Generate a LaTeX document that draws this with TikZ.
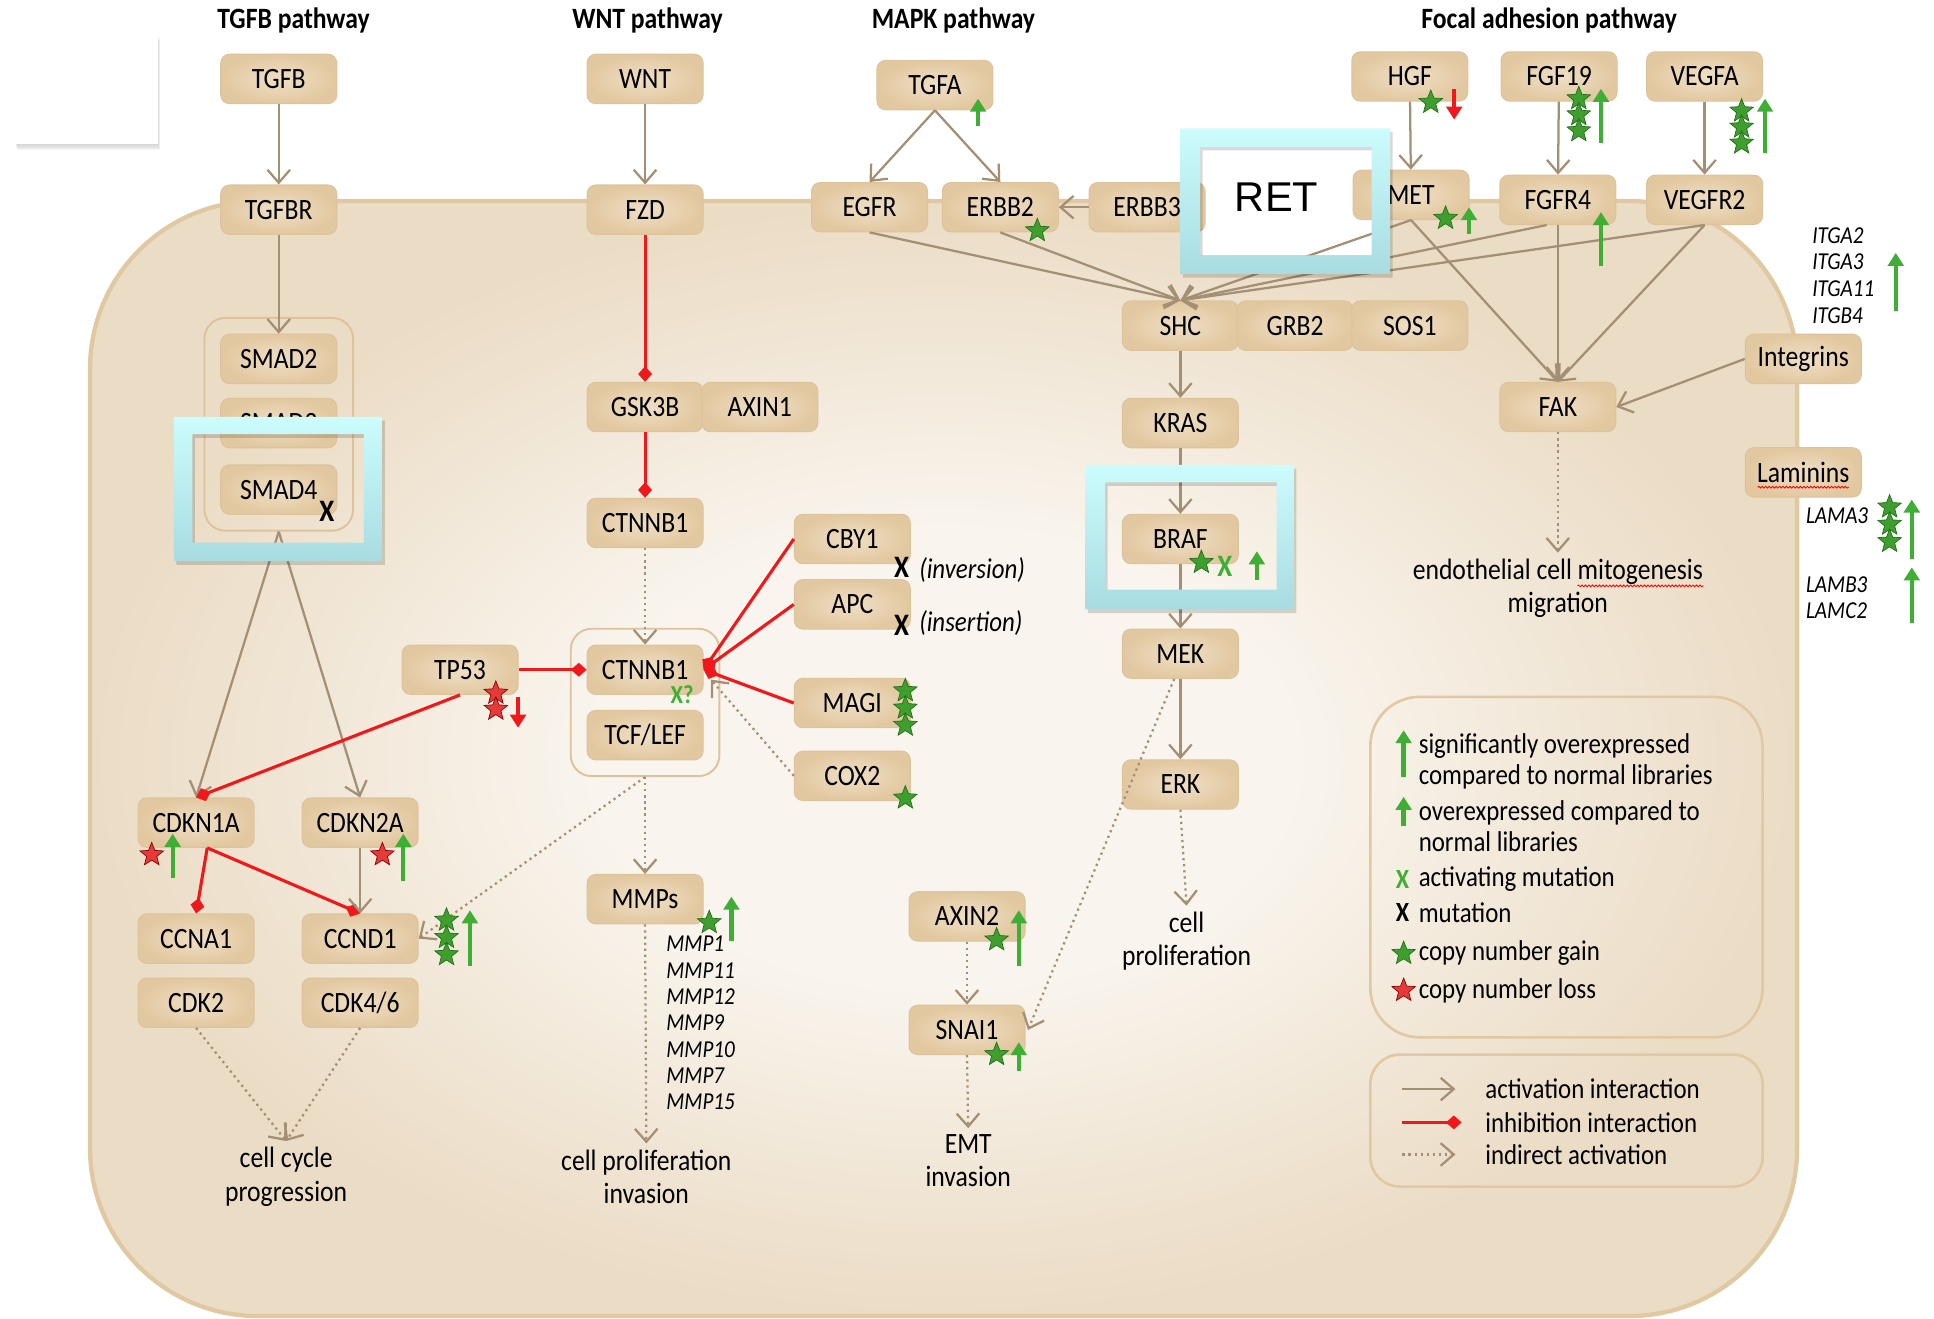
\documentclass[tikz,border=0pt]{standalone}
\usepackage{fontspec}
\setmainfont{Carlito}[FakeStretch=0.87]
\newfontfamily\retfont{Liberation Sans}
\usetikzlibrary{arrows.meta,shapes.geometric,fit,calc,decorations.pathmorphing}

\definecolor{boxin}{HTML}{EFDFC6}
\definecolor{boxout}{HTML}{E2C8A0}
\definecolor{boxline}{HTML}{DCC39C}
\definecolor{edgecol}{HTML}{A38F74}
\definecolor{cellin}{HTML}{F9F5EE}
\definecolor{cellout}{HTML}{EBDCC5}
\definecolor{cellline}{HTML}{E0C9A2}
\definecolor{grn}{HTML}{3FAE34}
\definecolor{stargrn}{HTML}{3E9F2E}
\definecolor{stardk}{HTML}{236F19}
\definecolor{redc}{HTML}{F0181A}
\definecolor{starred}{HTML}{E43A3A}
\definecolor{cyantop}{HTML}{CCFCFC}
\definecolor{cyanbot}{HTML}{A8DCE1}

\pgfdeclareradialshading{cellglow}{\pgfpoint{0bp}{0bp}}{color(0bp)=(cellin); color(10bp)=(cellin); color(25bp)=(cellout); color(50bp)=(cellout)}

\pgfdeclarelayer{back}
\pgfdeclarelayer{front}
\pgfsetlayers{back,main,front}

\begin{document}
\begin{tikzpicture}[x=0.025cm,y=-0.025cm]
\tikzset{
  gene/.style={rectangle, rounded corners=5pt, draw=boxline, line width=0.6pt,
    inner color=boxin, outer color=boxout, minimum width=2.35cm, minimum height=1cm,
    font=\fontsize{17}{20}\selectfont},
  grp/.style={rectangle, rounded corners=12pt, draw=boxline, line width=1.1pt, inner sep=0.32cm},
  act/.style={edgecol, line width=1.3pt, -{Straight Barb[length=7.5pt,width=13pt]}},
  inh/.style={redc, line width=1.8pt, -{Diamond[length=9pt,width=8pt]}},
  ind/.style={edgecol, line width=1.3pt, dash pattern=on 1.3pt off 2.2pt, -{Straight Barb[length=7.5pt,width=13pt]}},
  upg/.style={grn, line width=2.5pt, -{Triangle[length=7.5pt,width=9pt]}},
  dnr/.style={redc, line width=2.5pt, -{Triangle[length=7.5pt,width=9pt]}},
  gstar/.style={star, star points=5, star point ratio=2.3, fill=stargrn, draw=stardk,
    line width=0.4pt, minimum size=0.5cm, inner sep=0pt},
  rstar/.style={gstar, fill=starred, draw=red!55!black},
  lbl/.style={font=\fontsize{17}{19.3}\selectfont, align=center},
  ttl/.style={font=\bfseries\fontsize{17}{20}\selectfont},
  glist/.style={font=\itshape\fontsize{14}{16}\selectfont, anchor=west, inner sep=0pt},
  mutx/.style={font=\bfseries\fontsize{18}{20}\selectfont, inner sep=0pt},
  note/.style={font=\itshape\fontsize{16.5}{19}\selectfont, anchor=west, inner sep=0pt},
  legtxt/.style={font=\fontsize{16.5}{17.8}\selectfont, anchor=west, align=left, inner sep=0pt},
  wavy/.style={red, line width=0.5pt, decorate, decoration={snake, amplitude=0.5pt, segment length=2pt}}
}
\useasboundingbox (0,0) rectangle (1568,1069);

\begin{pgfonlayer}{back}
\shadedraw[shading=cellglow, draw=cellline, line width=2.5pt, rounded corners=3.4cm] (73,163) rectangle (1457,1067);
\foreach \i in {1,...,5}
  \fill[black, opacity=0.035] (12+0.4*\i,28+0.9*\i) rectangle (128+0.4*\i,117+0.9*\i);
\fill[white] (12,28) rectangle (128,117);
\fill[white] (973,119) rectangle (1112,207);
\end{pgfonlayer}

\node[ttl] (ttgfb) at (238,17) {TGFB pathway};
\node[ttl] (twnt) at (525,17) {WNT pathway};
\node[ttl] (tmapk) at (773,17) {MAPK pathway};
\node[ttl] (tfocal) at (1256,17) {Focal adhesion pathway};

% TGFB
\node[gene] (tgfb) at (226,64) {TGFB};
\node[gene] (tgfbr) at (226,170) {TGFBR};
\node[gene] (smadii) at (226,291) {SMAD2};
\node[gene] (smadiii) at (226,343) {SMAD3};
\node[gene] (smadiv) at (226,397) {SMAD4};
\node[grp, fit=(smadii)(smadiv)] (smadgrp) {};
\node[gene] (cdknia) at (159,667) {CDKN1A};
\node[gene] (cdkniia) at (292,667) {CDKN2A};
\node[gene] (ccnai) at (159,761) {CCNA1};
\node[gene] (ccndi) at (292,761) {CCND1};
\node[gene] (cdkii) at (159,813) {CDK2};
\node[gene] (cdkiv) at (292,813) {CDK4/6};
\node[gene] (tpliii) at (373,543) {TP53};
\node[lbl] (ccyc) at (232,954) {cell cycle\\progression};

% WNT
\node[gene] (wnt) at (523,64) {WNT};
\node[gene] (fzd) at (523,170) {FZD};
\node[gene] (gsk) at (523,330) {GSK3B};
\node[gene] (axini) at (616,330) {AXIN1};
\node[gene] (ctnnba) at (523,424) {CTNNB1};
\node[gene] (ctnnbb) at (523,543) {CTNNB1};
\node[gene] (tcf) at (523,596) {TCF/LEF};
\node[grp, fit=(ctnnbb)(tcf)] (tcfgrp) {};
\node[gene] (cby) at (691,437) {CBY1};
\node[gene] (apc) at (691,490) {APC};
\node[gene] (magi) at (691,570) {MAGI};
\node[gene] (cox) at (691,629) {COX2};
\node[gene] (mmps) at (523,729) {MMPs};
\node[lbl] (cprol) at (524,954) {cell proliferation\\invasion};

% MAPK
\node[gene] (tgfa) at (758,69) {TGFA};
\node[gene] (egfr) at (705,168) {EGFR};
\node[gene] (erbbii) at (811,168) {ERBB2};
\node[gene] (erbbiii) at (930,168) {ERBB3};
\node[gene] (shc) at (957,264) {SHC};
\node[gene] (grb) at (1050,264) {GRB2};
\node[gene] (sos) at (1143,264) {SOS1};
\node[gene] (kras) at (957,343) {KRAS};
\node[gene] (braf) at (957,437) {BRAF};
\node[gene] (mek) at (957,530) {MEK};
\node[gene] (erk) at (957,636) {ERK};
\node[lbl] (cprolii) at (962,763) {cell\\proliferation};
\node[gene] (axinii) at (784,743) {AXIN2};
\node[gene] (snai) at (784,835) {SNAI1};
\node[lbl] (emt) at (785,941) {EMT\\invasion};

% focal adhesion
\node[gene] (hgf) at (1143,62) {HGF};
\node[gene] (fgf) at (1264,62) {FGF19};
\node[gene] (vegfa) at (1382,62) {VEGFA};
\node[gene] (met) at (1144,158) {MET};
\node[gene] (fgfr) at (1263,162) {FGFR4};
\node[gene] (vegfr) at (1382,162) {VEGFR2};
\node[gene] (fak) at (1263,330) {FAK};
\node[gene] (integ) at (1462,291) {Integrins};
\node[gene] (lamin) at (1462,383) {Laminins};
\node[lbl] (endo) at (1263,477) {endothelial cell mitogenesis\\migration};
\draw[wavy] (1279,475) -- (1381,475);
\draw[wavy] (1425,395) -- (1499,395);

% connectors
\draw[act] (tgfb) -- (tgfbr);
\draw[act] (tgfbr) -- (smadii);
\draw[act] (smadgrp.south) -- (cdknia.north);
\draw[act] (smadgrp.south) -- (cdkniia.north);
\draw[inh] (tpliii.south) -- (cdknia.north);
\draw[inh] ($(cdknia.south)+(9,0)$) -- (ccnai.north);
\draw[inh] ($(cdknia.south)+(9,0)$) -- (ccndi.north);
\draw[act] (cdkniia) -- (ccndi);
\draw[ind] (cdkii.south) -- (ccyc.north);
\draw[ind] (cdkiv.south) -- (ccyc.north);

\draw[act] (wnt) -- (fzd);
\draw[inh] (fzd) -- (gsk);
\draw[inh] (gsk) -- (ctnnba);
\draw[ind] (ctnnba) -- (ctnnbb);
\draw[inh] (tpliii) -- (ctnnbb);
\draw[inh] (cby.west) -- (ctnnbb.east);
\draw[inh] (apc.west) -- (ctnnbb.east);
\draw[inh] (magi.west) -- (ctnnbb.east);
\draw[ind] (cox.west) -- ($(ctnnbb.east)+(6,8)$);
\draw[ind] (tcfgrp.south) -- (mmps.north);
\draw[ind] (tcfgrp.south) -- (ccndi.east);
\draw[ind] (mmps.south) -- (cprol.north);

\draw[act] (tgfa.south) -- (egfr.north);
\draw[act] (tgfa.south) -- (erbbii.north);
\draw[act] (erbbiii) -- (erbbii);
\draw[act] (egfr.south) -- (shc.north);
\draw[act] (erbbii.south) -- (shc.north);
\draw[act] (met.south) -- (shc.north);
\draw[act] ($(fgfr.south)+(-9,0)$) -- (shc.north);
\draw[act] (vegfr.south) -- (shc.north);
\draw[act] (shc) -- (kras);
\draw[act] (kras) -- (braf);
\draw[act] (braf) -- (mek);
\draw[act] (mek) -- (erk);
\draw[ind] (erk.south) -- (cprolii.north);
\draw[ind] ($(mek.south)+(-5,0)$) -- ($(snai.east)+(2,0)$);
\draw[ind] (axinii) -- (snai);
\draw[ind] (snai.south) -- (emt.north);

\draw[act] (hgf) -- (met);
\draw[act] (fgf) -- (fgfr);
\draw[act] (vegfa) -- (vegfr);
\draw[act] (met.south) -- (fak.north);
\draw[act] (fgfr.south) -- (fak.north);
\draw[act] (vegfr.south) -- (fak.north);
\draw[act] (integ.west) -- (fak.east);
\draw[ind] (fak.south) -- (endo.north);

% marks
\node[mutx] (xsmad) at (265,415) {X};
\node[rstar] (sttpa) at (402,562) {};
\node[rstar] (sttpb) at (402,575) {};
\draw[dnr] (420,565) -- (420,590);
\node[rstar] (stcdka) at (123,693) {};
\draw[upg] (140,712) -- (140,676);
\node[rstar] (stcdkb) at (310,693) {};
\draw[upg] (327,714) -- (327,676);
\foreach \y in {746,760,774} \node[gstar] (stccnd\y) at (362,\y) {};
\draw[upg] (381,783) -- (381,738);
\node[mutx, text=grn, font=\bfseries\fontsize{15}{17}\selectfont] (xctn) at (553,563) {X?};
\node[mutx] (xcby) at (731,460) {X};
\node[note] (ninv) at (745,462) {(inversion)};
\node[mutx] (xapc) at (731,507) {X};
\node[note] (nins) at (745,505) {(insertion)};
\foreach \y in {560,574,588} \node[gstar] (stmagi\y) at (734,\y) {};
\node[gstar] (stcox) at (734,647) {};
\node[gstar] (stmmp) at (575,748) {};
\draw[upg] (593,763) -- (593,727);
\foreach \n/\y in {MMP1/765,MMP11/787,MMP12/808,MMP9/829,MMP10/851,MMP7/872,MMP15/893}
  \node[glist] (l\n) at (540,\y) {\n};

\draw[upg] (793,102) -- (793,80);
\node[gstar] (sterb) at (841,187) {};
\node[gstar] (stbraf) at (974,456) {};
\node[mutx, text=grn] (xbraf) at (993,459) {X};
\draw[upg] (1019,470) -- (1019,447);
\node[gstar] (staxin) at (808,762) {};
\draw[upg] (826,783) -- (826,738);
\node[gstar] (stsnai) at (808,855) {};
\draw[upg] (826,868) -- (826,845);

\node[gstar] (sthgf) at (1160,83) {};
\draw[dnr] (1179,72) -- (1179,97);
\foreach \y in {80,93,106} \node[gstar] (stfgf\y) at (1280,\y) {};
\draw[upg] (1298,116) -- (1298,72);
\foreach \y in {90,103,116} \node[gstar] (stveg\y) at (1412,\y) {};
\draw[upg] (1431,124) -- (1431,80);
\node[gstar] (stmet) at (1172,177) {};
\draw[upg] (1191,190) -- (1191,168);
\draw[upg] (1298,216) -- (1298,172);
\foreach \n/\y in {ITGA2/191,ITGA3/212,ITGA11/234,ITGB4/256}
  \node[glist] (l\n) at (1469,\y) {\n};
\draw[upg] (1537,252) -- (1537,205);
\node[glist] (llama) at (1464,418) {LAMA3};
\foreach \y in {411,425,439} \node[gstar] (stlam\y) at (1532,\y) {};
\draw[upg] (1550,453) -- (1550,405);
\node[glist] (llamb) at (1464,474) {LAMB3};
\node[glist] (llamc) at (1464,495) {LAMC2};
\draw[upg] (1550,505) -- (1550,460);

% legend
\draw[cellline, line width=1.5pt, rounded corners=1cm] (1111,565) rectangle (1429,841);
\draw[upg] (1138,630) -- (1138,592);
\node[legtxt] (lgsig) at (1150,617) {significantly overexpressed\\compared to normal libraries};
\draw[upg] (1138,670) -- (1138,646);
\node[legtxt] (lgover) at (1150,670) {overexpressed compared to\\normal libraries};
\node[mutx, text=grn, font=\bfseries\fontsize{16}{18}\selectfont] (lgxg) at (1137,713) {X};
\node[legtxt] (lgact) at (1150,713) {activating mutation};
\node[mutx, font=\bfseries\fontsize{16}{18}\selectfont] (lgxb) at (1137,740) {X};
\node[legtxt] (lgmut) at (1150,740) {mutation};
\node[gstar] (lgsg) at (1138,773) {};
\node[legtxt] (lggain) at (1150,773) {copy number gain};
\node[rstar] (lgsr) at (1138,803) {};
\node[legtxt] (lgloss) at (1150,803) {copy number loss};

\draw[cellline, line width=1.5pt, rounded corners=0.6cm] (1111,855) rectangle (1429,962);
\draw[act] (1137,883) -- (1180,883);
\node[legtxt] (lgacti) at (1204,883) {activation interaction};
\draw[inh] (1137,910) -- (1185,910);
\node[legtxt] (lginh) at (1204,910) {inhibition interaction};
\draw[ind] (1137,936) -- (1180,936);
\node[legtxt] (lgind) at (1204,936) {indirect activation};

\begin{pgfonlayer}{front}
\foreach \ax/\ay/\bx/\by/\cx/\cy/\dx/\dy in {141/338/310/455/156/352/295/440, 880/377/1049/494/896/391/1035/478, 957/104/1127/222/973/119/1112/207} {
  \fill[black, opacity=0.15, even odd rule] (\ax+2,\ay+3) rectangle (\bx+2,\by+3) (\cx+2,\cy+3) rectangle (\dx+2,\dy+3);
  \shade[top color=cyantop, bottom color=cyanbot, even odd rule] (\ax,\ay) rectangle (\bx,\by) (\cx,\cy) rectangle (\dx,\dy);
}
\node[font=\retfont\fontsize{24}{28}\selectfont] (ret) at (1035,160) {RET};
\end{pgfonlayer}
\end{tikzpicture}
\end{document}
